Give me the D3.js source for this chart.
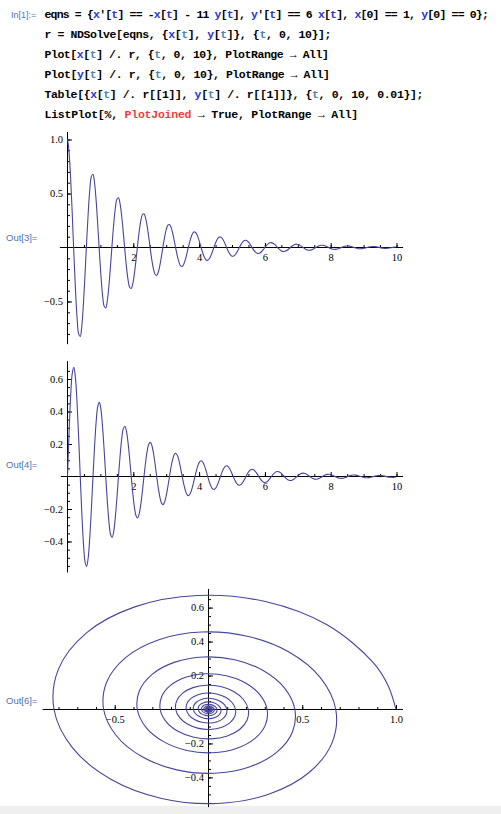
<!DOCTYPE html>
<html>
<head>
<meta charset="utf-8">
<script src="https://cdn.jsdelivr.net/npm/d3@7"></script>
<style>
  html, body { margin: 0; padding: 0; background: #fff; }
  svg { display: block; }
  .code { font-family: "Liberation Mono", "DejaVu Sans Mono", monospace; font-weight: bold; font-size: 11.5px; }
  .cell-label { font-family: "Liberation Sans", Arial, sans-serif; fill: #4f72b4; }
  .axis text { font-family: "Liberation Serif", "Times New Roman", serif; font-size: 10.5px; fill: #000; }
  .axis line { stroke: #000; stroke-width: 1; }
</style>
</head>
<body>
<div id="vis"></div>
<script>
'use strict'

////////////////////////////////////////
//////////////// Data //////////////////
////////////////////////////////////////

// sample times, 16 per oscillation (one extra point right after t = 0)
const tSamples = [
  0, 0.0242, 0.0484, 0.0969, 0.1453, 0.1937, 0.2421, 0.2906, 0.3390, 0.3874, 0.4359, 0.4843, 0.5327, 0.5812, 0.6296, 0.6780, 0.7264,
  0.7749, 0.8233, 0.8717, 0.9202, 0.9686, 1.0170, 1.0654, 1.1139, 1.1623, 1.2107, 1.2592, 1.3076, 1.3560, 1.4045, 1.4529, 1.5013,
  1.5497, 1.5982, 1.6466, 1.6950, 1.7435, 1.7919, 1.8403, 1.8888, 1.9372, 1.9856, 2.0340, 2.0825, 2.1309, 2.1793, 2.2278, 2.2762,
  2.3246, 2.3730, 2.4215, 2.4699, 2.5183, 2.5668, 2.6152, 2.6636, 2.7121, 2.7605, 2.8089, 2.8573, 2.9058, 2.9542, 3.0026, 3.0511,
  3.0995, 3.1479, 3.1963, 3.2448, 3.2932, 3.3416, 3.3901, 3.4385, 3.4869, 3.5354, 3.5838, 3.6322, 3.6806, 3.7291, 3.7775, 3.8259,
  3.8744, 3.9228, 3.9712, 4.0196, 4.0681, 4.1165, 4.1649, 4.2134, 4.2618, 4.3102, 4.3587, 4.4071, 4.4555, 4.5039, 4.5524, 4.6008,
  4.6492, 4.6977, 4.7461, 4.7945, 4.8430, 4.8914, 4.9398, 4.9882, 5.0367, 5.0851, 5.1335, 5.1820, 5.2304, 5.2788, 5.3272, 5.3757,
  5.4241, 5.4725, 5.5210, 5.5694, 5.6178, 5.6663, 5.7147, 5.7631, 5.8115, 5.8600, 5.9084, 5.9568, 6.0053, 6.0537, 6.1021, 6.1505,
  6.1990, 6.2474, 6.2958, 6.3443, 6.3927, 6.4411, 6.4896, 6.5380, 6.5864, 6.6348, 6.6833, 6.7317, 6.7801, 6.8286, 6.8770, 6.9254,
  6.9738, 7.0223, 7.0707, 7.1191, 7.1676, 7.2160, 7.2644, 7.3129, 7.3613, 7.4097, 7.4581, 7.5066, 7.5550, 7.6034, 7.6519, 7.7003,
  7.7487, 7.7971, 7.8456, 7.8940, 7.9424, 7.9909, 8.0393, 8.0877, 8.1362, 8.1846, 8.2330, 8.2814, 8.3299, 8.3783, 8.4267, 8.4752,
  8.5236, 8.5720, 8.6205, 8.6689, 8.7173, 8.7657, 8.8142, 8.8626, 8.9110, 8.9595, 9.0079, 9.0563, 9.1047, 9.1532, 9.2016, 9.2500,
  9.2985, 9.3469, 9.3953, 9.4438, 9.4922, 9.5406, 9.5890, 9.6375, 9.6859, 9.7343, 9.7828, 9.8312, 9.8796, 9.9280, 9.9765
];

const xSeries = [
  1.0000, 0.9571, 0.8787, 0.6321, 0.3029, -0.0560, -0.3895, -0.6492, -0.7997, -0.8239, -0.7240, -0.5208, -0.2495, 0.0461, 0.3209, 0.5348, 0.6589,
  0.6788, 0.5965, 0.4291, 0.2056, -0.0380, -0.2644, -0.4406, -0.5428, -0.5592, -0.4914, -0.3535, -0.1694, 0.0313, 0.2178, 0.3630, 0.4472,
  0.4607, 0.4049, 0.2912, 0.1396, -0.0258, -0.1795, -0.2991, -0.3685, -0.3796, -0.3336, -0.2399, -0.1150, 0.0213, 0.1479, 0.2464, 0.3036,
  0.3127, 0.2748, 0.1977, 0.0947, -0.0175, -0.1218, -0.2030, -0.2501, -0.2576, -0.2264, -0.1629, -0.0780, 0.0144, 0.1004, 0.1673, 0.2061,
  0.2123, 0.1865, 0.1342, 0.0643, -0.0119, -0.0827, -0.1378, -0.1698, -0.1749, -0.1537, -0.1105, -0.0530, 0.0098, 0.0681, 0.1135, 0.1399,
  0.1441, 0.1266, 0.0911, 0.0436, -0.0081, -0.0561, -0.0935, -0.1152, -0.1187, -0.1043, -0.0750, -0.0360, 0.0066, 0.0462, 0.0771, 0.0949,
  0.0978, 0.0859, 0.0618, 0.0296, -0.0055, -0.0381, -0.0635, -0.0782, -0.0806, -0.0708, -0.0509, -0.0244, 0.0045, 0.0314, 0.0523, 0.0644,
  0.0664, 0.0583, 0.0420, 0.0201, -0.0037, -0.0259, -0.0431, -0.0531, -0.0547, -0.0481, -0.0346, -0.0166, 0.0031, 0.0213, 0.0355, 0.0437,
  0.0451, 0.0396, 0.0285, 0.0136, -0.0025, -0.0176, -0.0293, -0.0360, -0.0371, -0.0326, -0.0235, -0.0112, 0.0021, 0.0145, 0.0241, 0.0297,
  0.0306, 0.0269, 0.0193, 0.0093, -0.0017, -0.0119, -0.0199, -0.0245, -0.0252, -0.0221, -0.0159, -0.0076, 0.0014, 0.0098, 0.0164, 0.0202,
  0.0208, 0.0182, 0.0131, 0.0063, -0.0012, -0.0081, -0.0135, -0.0166, -0.0171, -0.0150, -0.0108, -0.0052, 0.0010, 0.0067, 0.0111, 0.0137,
  0.0141, 0.0124, 0.0089, 0.0043, -0.0008, -0.0055, -0.0091, -0.0113, -0.0116, -0.0102, -0.0073, -0.0035, 0.0007, 0.0045, 0.0075, 0.0093,
  0.0096, 0.0084, 0.0060, 0.0029, -0.0005, -0.0037, -0.0062, -0.0077, -0.0079, -0.0069, -0.0050, -0.0024, 0.0004, 0.0031, 0.0051
];

const ySeries = [
  0, 0.1426, 0.2764, 0.4985, 0.6357, 0.6716, 0.6057, 0.4525, 0.2390, 0, -0.2277, -0.4107, -0.5238, -0.5533, -0.4990, -0.3728, -0.1969,
  0, 0.1876, 0.3384, 0.4315, 0.4559, 0.4111, 0.3071, 0.1622, 0, -0.1546, -0.2788, -0.3555, -0.3756, -0.3387, -0.2530, -0.1337,
  0, 0.1273, 0.2297, 0.2929, 0.3094, 0.2790, 0.2085, 0.1101, 0, -0.1049, -0.1892, -0.2413, -0.2549, -0.2299, -0.1717, -0.0907,
  0, 0.0864, 0.1559, 0.1988, 0.2100, 0.1894, 0.1415, 0.0747, 0, -0.0712, -0.1284, -0.1638, -0.1730, -0.1560, -0.1166, -0.0616,
  0, 0.0587, 0.1058, 0.1349, 0.1426, 0.1286, 0.0960, 0.0507, 0, -0.0483, -0.0872, -0.1112, -0.1175, -0.1059, -0.0791, -0.0418,
  0, 0.0398, 0.0718, 0.0916, 0.0968, 0.0873, 0.0652, 0.0344, 0, -0.0328, -0.0592, -0.0755, -0.0797, -0.0719, -0.0537, -0.0284,
  0, 0.0270, 0.0488, 0.0622, 0.0657, 0.0592, 0.0443, 0.0234, 0, -0.0223, -0.0402, -0.0512, -0.0541, -0.0488, -0.0365, -0.0193,
  0, 0.0183, 0.0331, 0.0422, 0.0446, 0.0402, 0.0300, 0.0159, 0, -0.0151, -0.0273, -0.0348, -0.0367, -0.0331, -0.0247, -0.0131,
  0, 0.0125, 0.0225, 0.0286, 0.0303, 0.0273, 0.0204, 0.0108, 0, -0.0103, -0.0185, -0.0236, -0.0249, -0.0225, -0.0168, -0.0089,
  0, 0.0085, 0.0152, 0.0194, 0.0205, 0.0185, 0.0138, 0.0073, 0, -0.0070, -0.0126, -0.0160, -0.0169, -0.0153, -0.0114, -0.0060,
  0, 0.0057, 0.0103, 0.0132, 0.0139, 0.0126, 0.0094, 0.0050, 0, -0.0047, -0.0085, -0.0109, -0.0115, -0.0104, -0.0077, -0.0041,
  0, 0.0039, 0.0070, 0.0090, 0.0095, 0.0085, 0.0064, 0.0034, 0, -0.0032, -0.0058, -0.0074, -0.0078, -0.0070, -0.0053, -0.0028,
  0, 0.0026, 0.0048, 0.0061, 0.0064, 0.0058, 0.0043, 0.0023, 0, -0.0022, -0.0039, -0.0050, -0.0053, -0.0048, -0.0036
];

// tick labels
const tTicks = [2, 4, 6, 8, 10];
const xPlotTicks = [-0.5, 0.5, 1.0];
const yPlotTicks = [-0.4, -0.2, 0.2, 0.4, 0.6];

// notebook text
const codeLines = [
  "eqns = {x'[t] == -x[t] - 11 y[t], y'[t] == 6 x[t], x[0] == 1, y[0] == 0};",
  "r = NDSolve[eqns, {x[t], y[t]}, {t, 0, 10}];",
  "Plot[x[t] /. r, {t, 0, 10}, PlotRange \u2192 All]",
  "Plot[y[t] /. r, {t, 0, 10}, PlotRange \u2192 All]",
  "Table[{x[t] /. r[[1]], y[t] /. r[[1]]}, {t, 0, 10, 0.01}];",
  "ListPlot[%, PlotJoined \u2192 True, PlotRange \u2192 All]"
];
const outLabels = ["Out[3]=", "Out[4]=", "Out[6]="];

////////////////////////////////////////
////////////// SVG Setup ///////////////
////////////////////////////////////////

const width = 501, height = 814;

const svg = d3.select('#vis').append('svg')
  .attr('width', width)
  .attr('height', height)
  .attr('viewBox', `0 0 ${width} ${height}`);

svg.append('rect').attr('width', width).attr('height', height).attr('fill', '#fff');
svg.append('rect').attr('x', 0).attr('y', 806).attr('width', width).attr('height', 8).attr('fill', '#efefef');

////////////////////////////////////////
//////////////// Input /////////////////
////////////////////////////////////////

const blue = '#2b38c6', teal = '#4f86aa', red = '#f23c3c';

svg.append('text')
  .attr('class', 'cell-label')
  .attr('x', 11).attr('y', 17.5)
  .style('font-size', '9px')
  .text('In[1]:=');

const codeEnds = [488, 331, 328.5, 329.5, 423, 358];
const codeX = 44.5;

codeLines.forEach((line, i) => {
  const text = svg.append('text')
    .attr('class', 'code')
    .attr('x', codeX)
    .attr('y', 17.5 + i * 20);

  line.split(/([A-Za-z]+)/).forEach((part, j) => {
    if (!part) return;
    let color = '#000';
    if (j % 2 === 1) {
      if (part === 'x' || part === 'y') color = blue;
      else if (part === 't') color = i === 0 ? blue : teal;
      else if (part === 'PlotJoined') color = red;
    }
    text.append('tspan').attr('fill', color).text(part);
  });

  // squeeze the line to the width it has in the notebook
  const natural = text.node().getComputedTextLength();
  const spacing = (codeEnds[i] - codeX - natural) / line.length;
  text.style('letter-spacing', `${spacing}px`);
});

////////////////////////////////////////
//////////////// Panels ////////////////
////////////////////////////////////////

const lineColor = '#45459e';
const fmt1 = d3.format('.1f');
const minorTenths = d3.range(-8, 11).filter(d => d !== 0).map(d => d / 10);
const minorTwentieths = d3.range(-11, 14).filter(d => d !== 0).map(d => d / 20);

const panels = [
  {
    label: outLabels[0], labelY: 241,
    x: d3.scaleLinear().domain([0, 10]).range([67.5, 396.5]),
    y: d3.scaleLinear().domain([-0.5, 1.0]).range([301.5, 139.5]),
    xExtent: [-0.23, 10.2], yExtent: [-0.895, 1.07],
    xMajor: tTicks, xMinor: d3.range(0.5, 10.01, 0.5), xFormat: d3.format('d'),
    yMajor: [-0.5, 0.5, 1.0], yMinor: minorTenths, yFormat: fmt1,
    points: tSamples.map((t, i) => [t, xSeries[i]])
  },
  {
    label: outLabels[1], labelY: 467.5,
    x: d3.scaleLinear().domain([0, 10]).range([67.5, 396.5]),
    y: d3.scaleLinear().domain([-0.4, 0.6]).range([541.5, 379]),
    xExtent: [-0.2, 10.2], yExtent: [-0.59, 0.71],
    xMajor: tTicks, xMinor: d3.range(0.5, 10.01, 0.5), xFormat: d3.format('d'),
    yMajor: yPlotTicks, yMinor: minorTwentieths, yFormat: fmt1,
    points: tSamples.map((t, i) => [t, ySeries[i]])
  },
  {
    label: outLabels[2], labelY: 704,
    x: d3.scaleLinear().domain([-0.5, 1.0]).range([114.75, 396]),
    y: d3.scaleLinear().domain([-0.4, 0.6]).range([777.4, 607.6]),
    xExtent: [-0.885, 1.037], yExtent: [-0.575, 0.71],
    xMajor: xPlotTicks, xMinor: minorTenths, xFormat: fmt1,
    yMajor: yPlotTicks, yMinor: minorTwentieths, yFormat: fmt1,
    points: xSeries.map((v, i) => [v, ySeries[i]])
  }
];

panels.forEach(p => {
  const g = svg.append('g');

  // horizontal axis
  g.append('line')
    .attr('x1', p.x(p.xExtent[0])).attr('x2', p.x(p.xExtent[1]))
    .attr('y1', p.y(0)).attr('y2', p.y(0))
    .attr('stroke', '#000');

  // vertical axis
  g.append('line')
    .attr('x1', p.x(0)).attr('x2', p.x(0))
    .attr('y1', p.y(p.yExtent[1])).attr('y2', p.y(p.yExtent[0]))
    .attr('stroke', '#000');

  g.append('g').attr('class', 'axis')
    .attr('transform', `translate(0,${p.y(0)})`)
    .call(d3.axisBottom(p.x).tickValues(p.xMinor).tickSizeInner(-2.5).tickSizeOuter(0).tickFormat(''))
    .call(a => a.select('.domain').remove());

  g.append('g').attr('class', 'axis')
    .attr('transform', `translate(0,${p.y(0)})`)
    .call(d3.axisBottom(p.x).tickValues(p.xMajor).tickSizeInner(-4.5).tickSizeOuter(0).tickPadding(6).tickFormat(p.xFormat))
    .call(a => a.select('.domain').remove());

  g.append('g').attr('class', 'axis')
    .attr('transform', `translate(${p.x(0)},0)`)
    .call(d3.axisLeft(p.y).tickValues(p.yMinor).tickSizeInner(-2.5).tickSizeOuter(0).tickFormat(''))
    .call(a => a.select('.domain').remove());

  g.append('g').attr('class', 'axis')
    .attr('transform', `translate(${p.x(0)},0)`)
    .call(d3.axisLeft(p.y).tickValues(p.yMajor).tickSizeInner(-4.5).tickSizeOuter(0).tickPadding(4.5).tickFormat(p.yFormat))
    .call(a => a.select('.domain').remove());

  // centripetal Catmull-Rom copes with the uneven first step
  const line = d3.line()
    .x(d => p.x(d[0]))
    .y(d => p.y(d[1]))
    .curve(d3.curveCatmullRom.alpha(0.5));

  g.append('path')
    .datum(p.points)
    .attr('fill', 'none')
    .attr('stroke', lineColor)
    .attr('stroke-width', 1.1)
    .attr('stroke-linejoin', 'round')
    .attr('d', line);

  svg.append('text')
    .attr('class', 'cell-label')
    .attr('x', 6).attr('y', p.labelY)
    .style('font-size', '9.5px')
    .text(p.label);
});
</script>
</body>
</html>
